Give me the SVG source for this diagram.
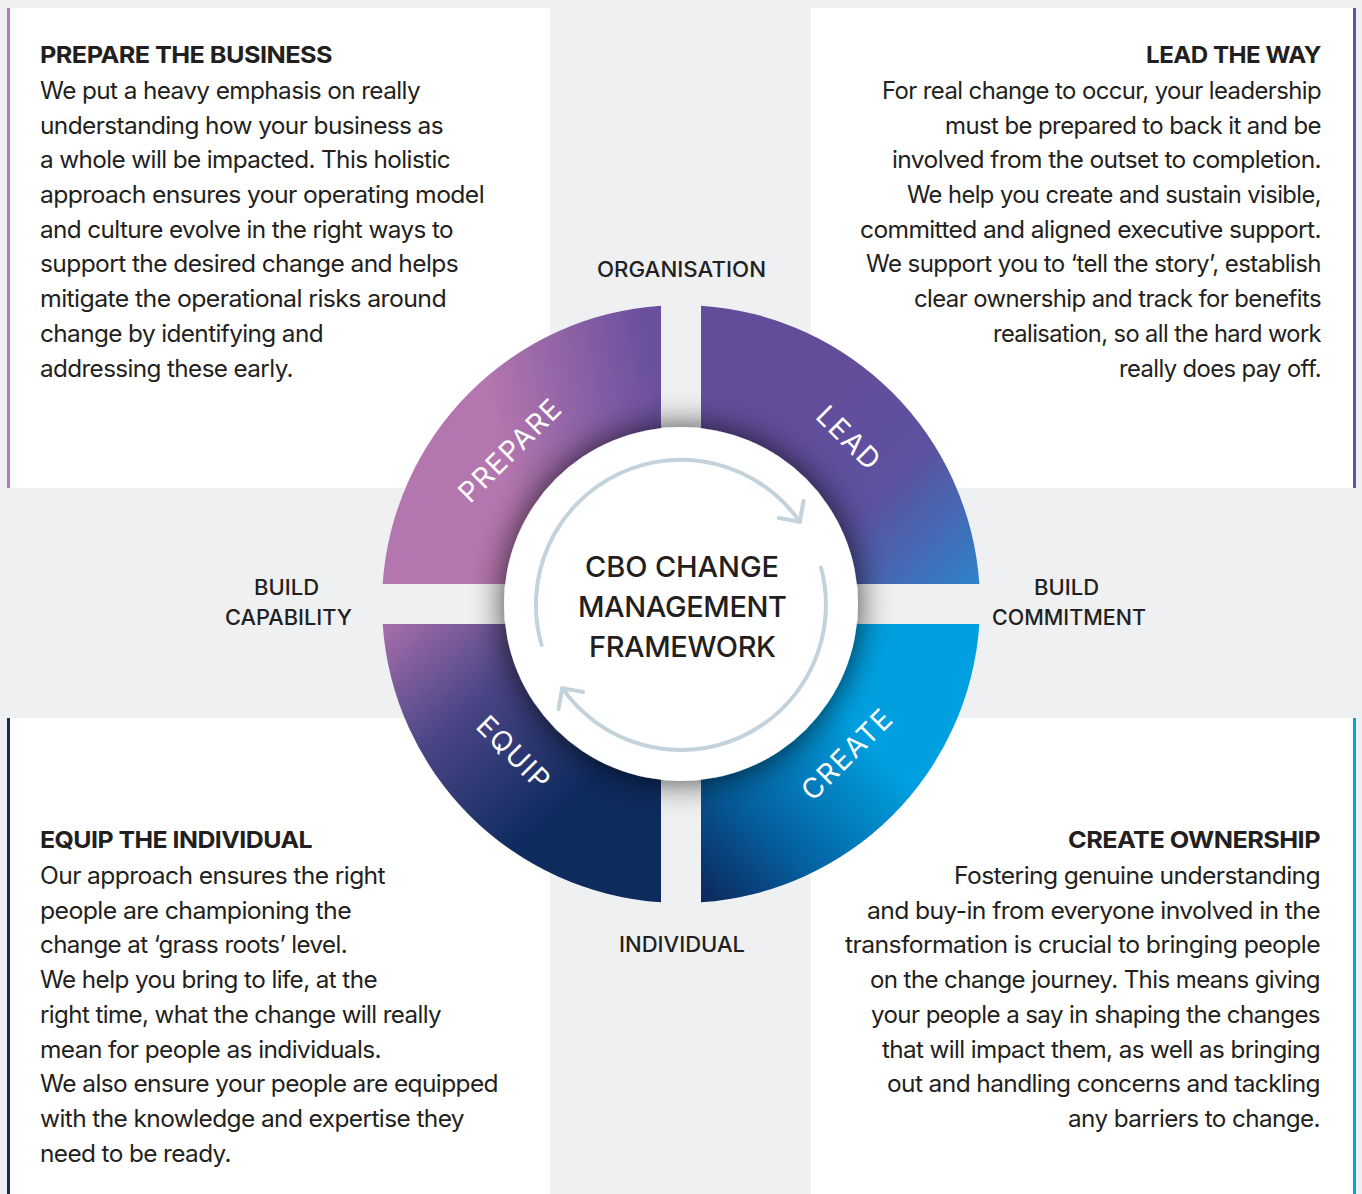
<svg xmlns="http://www.w3.org/2000/svg" width="1362" height="1194" viewBox="0 0 1362 1194">
<style>
.body{font-family:Inter,"Liberation Sans",sans-serif;font-size:24px;letter-spacing:-0.6px;fill:#231f20;}
.head{font-family:Inter,"Liberation Sans",sans-serif;font-size:23.5px;font-weight:700;letter-spacing:-0.5px;fill:#231f20;}
.lbl{font-family:Inter,"Liberation Sans",sans-serif;font-size:21px;font-weight:500;fill:#231f20;}
.ctr{font-family:Inter,"Liberation Sans",sans-serif;font-size:29px;font-weight:500;fill:#231f20;}
.ring{font-family:Inter,"Liberation Sans",sans-serif;font-size:28px;fill:#ffffff;letter-spacing:1.5px;text-anchor:middle;}
.cyc{fill:none;stroke:#c4d2db;stroke-width:4;stroke-linecap:round;}
</style>
<defs>
<linearGradient id="gPrep" gradientUnits="userSpaceOnUse" x1="500" y1="450" x2="661" y2="420">
<stop offset="0" stop-color="#b476ae"/><stop offset="1" stop-color="#6a509e"/>
</linearGradient>
<linearGradient id="gLead" gradientUnits="userSpaceOnUse" x1="800" y1="420" x2="975" y2="590">
<stop offset="0" stop-color="#634d9b"/><stop offset="0.45" stop-color="#5c51a0"/><stop offset="1" stop-color="#2e83c9"/>
</linearGradient>
<linearGradient id="gCreate" gradientUnits="userSpaceOnUse" x1="705" y1="890" x2="870" y2="740">
<stop offset="0" stop-color="#0c2c62"/><stop offset="0.4" stop-color="#05609f"/><stop offset="1" stop-color="#00a0e0"/>
</linearGradient>
<linearGradient id="gEquip" gradientUnits="userSpaceOnUse" x1="395" y1="625" x2="560" y2="810">
<stop offset="0" stop-color="#a06ca9"/><stop offset="0.45" stop-color="#4a4585"/><stop offset="1" stop-color="#0e2b5e"/>
</linearGradient>
<filter id="shadow" x="-40%" y="-40%" width="180%" height="180%">
<feGaussianBlur in="SourceAlpha" stdDeviation="17"/>
<feComponentTransfer><feFuncA type="linear" slope="0.75"/></feComponentTransfer>
<feMerge><feMergeNode/><feMergeNode in="SourceGraphic"/></feMerge>
</filter>
<marker id="chev" markerUnits="userSpaceOnUse" viewBox="-20 -20 24 40" markerWidth="24" markerHeight="40" refX="0" refY="0" orient="auto">
<path d="M-15,-15 L0,0 L-15,15" fill="none" stroke="#c4d2db" stroke-width="4" stroke-linecap="round" stroke-linejoin="round"/>
</marker>
</defs>

<rect x="0" y="0" width="1362" height="1194" fill="#eef0f2"/>

<g id="panel-prepare">
<rect x="8" y="8" width="542" height="480" fill="#ffffff"/>
<rect x="7" y="8" width="3" height="480" fill="#b07cb7"/>
<text class="head" x="40" y="63" textLength="292" lengthAdjust="spacingAndGlyphs">PREPARE THE BUSINESS</text>
<text class="body" x="40" y="99" textLength="380" lengthAdjust="spacingAndGlyphs">We put a heavy emphasis on really</text>
<text class="body" x="40" y="134" textLength="403" lengthAdjust="spacingAndGlyphs">understanding how your business as</text>
<text class="body" x="40" y="168" textLength="410" lengthAdjust="spacingAndGlyphs">a whole will be impacted. This holistic</text>
<text class="body" x="40" y="203" textLength="444" lengthAdjust="spacingAndGlyphs">approach ensures your operating model</text>
<text class="body" x="40" y="238" textLength="413" lengthAdjust="spacingAndGlyphs">and culture evolve in the right ways to</text>
<text class="body" x="40" y="272" textLength="418" lengthAdjust="spacingAndGlyphs">support the desired change and helps</text>
<text class="body" x="40" y="307" textLength="406" lengthAdjust="spacingAndGlyphs">mitigate the operational risks around</text>
<text class="body" x="40" y="342" textLength="283" lengthAdjust="spacingAndGlyphs">change by identifying and</text>
<text class="body" x="40" y="377" textLength="253" lengthAdjust="spacingAndGlyphs">addressing these early.</text>
</g>

<g id="panel-lead">
<rect x="811" y="8" width="545" height="480" fill="#ffffff"/>
<rect x="1353" y="8" width="3" height="480" fill="#6353a1"/>
<text class="head" x="1146" y="63" textLength="175" lengthAdjust="spacingAndGlyphs">LEAD THE WAY</text>
<text class="body" x="882" y="99" textLength="439" lengthAdjust="spacingAndGlyphs">For real change to occur, your leadership</text>
<text class="body" x="945" y="134" textLength="376" lengthAdjust="spacingAndGlyphs">must be prepared to back it and be</text>
<text class="body" x="892" y="168" textLength="429" lengthAdjust="spacingAndGlyphs">involved from the outset to completion.</text>
<text class="body" x="907" y="203" textLength="414" lengthAdjust="spacingAndGlyphs">We help you create and sustain visible,</text>
<text class="body" x="860" y="238" textLength="461" lengthAdjust="spacingAndGlyphs">committed and aligned executive support.</text>
<text class="body" x="866" y="272" textLength="455" lengthAdjust="spacingAndGlyphs">We support you to ‘tell the story’, establish</text>
<text class="body" x="914" y="307" textLength="407" lengthAdjust="spacingAndGlyphs">clear ownership and track for benefits</text>
<text class="body" x="993" y="342" textLength="328" lengthAdjust="spacingAndGlyphs">realisation, so all the hard work</text>
<text class="body" x="1119" y="377" textLength="202" lengthAdjust="spacingAndGlyphs">really does pay off.</text>
</g>

<g id="panel-equip">
<rect x="8" y="718" width="542" height="476" fill="#ffffff"/>
<rect x="7" y="718" width="3" height="476" fill="#0d2d62"/>
<text class="head" x="40" y="848" textLength="272" lengthAdjust="spacingAndGlyphs">EQUIP THE INDIVIDUAL</text>
<text class="body" x="40" y="884" textLength="345" lengthAdjust="spacingAndGlyphs">Our approach ensures the right</text>
<text class="body" x="40" y="919" textLength="311" lengthAdjust="spacingAndGlyphs">people are championing the</text>
<text class="body" x="40" y="953" textLength="307" lengthAdjust="spacingAndGlyphs">change at ‘grass roots’ level.</text>
<text class="body" x="40" y="988" textLength="337" lengthAdjust="spacingAndGlyphs">We help you bring to life, at the</text>
<text class="body" x="40" y="1023" textLength="401" lengthAdjust="spacingAndGlyphs">right time, what the change will really</text>
<text class="body" x="40" y="1058" textLength="341" lengthAdjust="spacingAndGlyphs">mean for people as individuals.</text>
<text class="body" x="40" y="1092" textLength="458" lengthAdjust="spacingAndGlyphs">We also ensure your people are equipped</text>
<text class="body" x="40" y="1127" textLength="424" lengthAdjust="spacingAndGlyphs">with the knowledge and expertise they</text>
<text class="body" x="40" y="1162" textLength="191" lengthAdjust="spacingAndGlyphs">need to be ready.</text>
</g>

<g id="panel-create">
<rect x="811" y="718" width="545" height="476" fill="#ffffff"/>
<rect x="1353" y="718" width="3" height="476" fill="#0a9fdf"/>
<text class="head" x="1068" y="848" textLength="252" lengthAdjust="spacingAndGlyphs">CREATE OWNERSHIP</text>
<text class="body" x="954" y="884" textLength="366" lengthAdjust="spacingAndGlyphs">Fostering genuine understanding</text>
<text class="body" x="867" y="919" textLength="453" lengthAdjust="spacingAndGlyphs">and buy-in from everyone involved in the</text>
<text class="body" x="845" y="953" textLength="475" lengthAdjust="spacingAndGlyphs">transformation is crucial to bringing people</text>
<text class="body" x="870" y="988" textLength="450" lengthAdjust="spacingAndGlyphs">on the change journey. This means giving</text>
<text class="body" x="871" y="1023" textLength="449" lengthAdjust="spacingAndGlyphs">your people a say in shaping the changes</text>
<text class="body" x="882" y="1058" textLength="438" lengthAdjust="spacingAndGlyphs">that will impact them, as well as bringing</text>
<text class="body" x="887" y="1092" textLength="433" lengthAdjust="spacingAndGlyphs">out and handling concerns and tackling</text>
<text class="body" x="1068" y="1127" textLength="252" lengthAdjust="spacingAndGlyphs">any barriers to change.</text>
</g>

<g id="axis-labels">
<text class="lbl" x="597" y="277" textLength="169" lengthAdjust="spacingAndGlyphs">ORGANISATION</text>
<text class="lbl" x="254" y="595" textLength="65" lengthAdjust="spacingAndGlyphs">BUILD</text>
<text class="lbl" x="225" y="625" textLength="127" lengthAdjust="spacingAndGlyphs">CAPABILITY</text>
<text class="lbl" x="1034" y="595" textLength="65" lengthAdjust="spacingAndGlyphs">BUILD</text>
<text class="lbl" x="992" y="625" textLength="154" lengthAdjust="spacingAndGlyphs">COMMITMENT</text>
<text class="lbl" x="619" y="952" textLength="126" lengthAdjust="spacingAndGlyphs">INDIVIDUAL</text>
</g>

<g id="ring">
<g id="node-prepare">
<path d="M661,584 L661,305.67 A299,299 0 0,0 382.67,584 Z" fill="url(#gPrep)"/>
</g>
<g id="node-lead">
<path d="M701,584 L701,305.67 A299,299 0 0,1 979.33,584 Z" fill="url(#gLead)"/>
</g>
<g id="node-create">
<path d="M701,624 L979.33,624 A299,299 0 0,1 701,902.33 Z" fill="url(#gCreate)"/>
</g>
<g id="node-equip">
<path d="M661,624 L661,902.33 A299,299 0 0,1 382.67,624 Z" fill="url(#gEquip)"/>
</g>
</g>

<g id="node-center">
<circle cx="681" cy="604" r="177" fill="#ffffff" filter="url(#shadow)"/>
<text class="ctr" x="585" y="577" textLength="194">CBO CHANGE</text>
<text class="ctr" x="578" y="617" textLength="209">MANAGEMENT</text>
<text class="ctr" x="589" y="657" textLength="187">FRAMEWORK</text>
</g>

<g id="ring-labels">
<text class="ring" transform="translate(510,450) rotate(-45)" y="10">PREPARE</text>
<text class="ring" transform="translate(849,438) rotate(45)" y="10">LEAD</text>
<text class="ring" transform="translate(847,754) rotate(-45)" y="10">CREATE</text>
<text class="ring" transform="translate(514,753) rotate(45)" y="10">EQUIP</text>
</g>

<g id="connectors">
<path class="cyc" d="M541.6,645 A145,145 0 0,1 799.8,521.8" marker-end="url(#chev)"/>
<path class="cyc" d="M821,567.5 A145,145 0 0,1 562.2,688.2" marker-end="url(#chev)"/>
</g>
</svg>
